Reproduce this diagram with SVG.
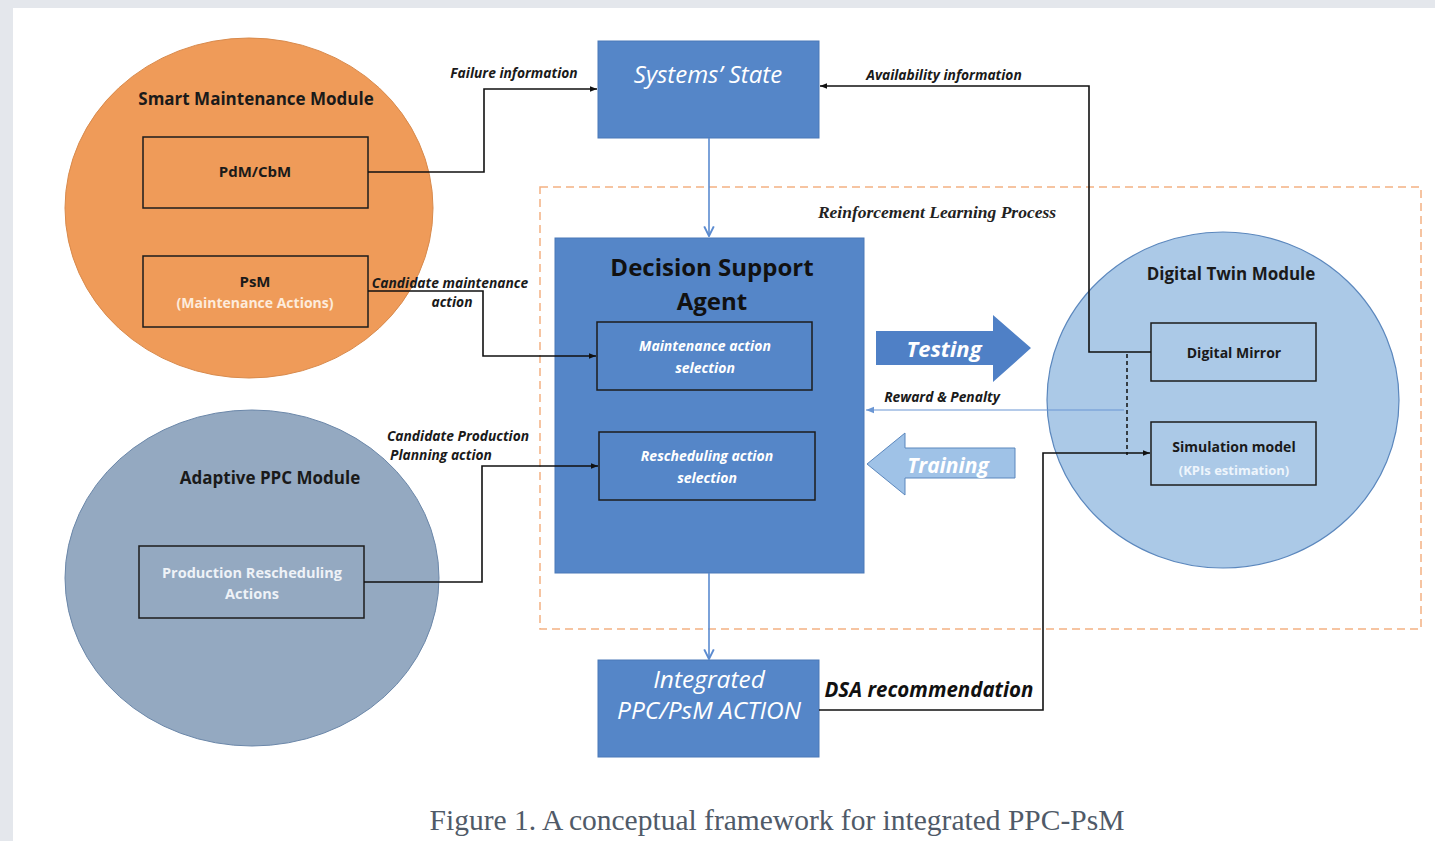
<svg xmlns="http://www.w3.org/2000/svg" width="1435" height="841" viewBox="0 0 1435 841">
<style>
.t{font-family:"Open Sans",Lato,sans-serif;text-anchor:middle}
.b{font-weight:bold}
.i{font-style:italic}
.box{fill:none;stroke:#1c1c1c;stroke-width:1.5}
.blue{fill:#5586c8;stroke:#4a78b8;stroke-width:1}
.con{fill:none;stroke:#111;stroke-width:1.6}
.lbl{font-family:"Open Sans",Lato,sans-serif;font-weight:bold;font-style:italic;font-size:13.8px;fill:#1a1a1a;text-anchor:middle}
</style>
<defs>
<marker id="ah" viewBox="0 0 10 10" refX="10" refY="5" markerWidth="7" markerHeight="7" orient="auto" markerUnits="userSpaceOnUse"><path d="M0,1 L10,5 L0,9 z" fill="#111"/></marker>
<marker id="bh" viewBox="0 0 10 10" refX="9" refY="5" markerWidth="12" markerHeight="12" orient="auto" markerUnits="userSpaceOnUse"><path d="M1,1 L9,5 L1,9" fill="none" stroke="#5b8bd0" stroke-width="1.6"/></marker>
<marker id="rh" viewBox="0 0 10 10" refX="10" refY="5" markerWidth="8" markerHeight="8" orient="auto" markerUnits="userSpaceOnUse"><path d="M0,1 L10,5 L0,9 z" fill="#6a96d4"/></marker>
</defs>
<rect x="0" y="0" width="1435" height="841" fill="#e4e7ec"/>
<rect x="13" y="8" width="1422" height="833" fill="#ffffff"/>

<g id="rl-process">
<rect x="540" y="187" width="881" height="442" fill="none" stroke="#f4b183" stroke-width="1.5" stroke-dasharray="8,5"/>
<text x="937" y="218" font-family="'Liberation Serif',serif" font-style="italic" font-weight="bold" font-size="17.5" fill="#222" text-anchor="middle">Reinforcement Learning Process</text>
</g>

<g id="smart-maintenance">
<ellipse cx="249" cy="208" rx="184" ry="170" fill="#ef9b59" stroke="#d88a4c" stroke-width="1"/>
<text class="t b" x="256" y="105" font-size="17" fill="#1a1a1a">Smart Maintenance Module</text>
</g>
<g id="pdm-cbm">
<rect class="box" x="143" y="137" width="225" height="71"/>
<text class="t b" x="255" y="177" font-size="15" fill="#1a1a1a">PdM/CbM</text>
</g>
<g id="psm">
<rect class="box" x="143" y="256" width="225" height="71"/>
<text class="t b" x="255" y="287" font-size="15" fill="#1a1a1a">PsM</text>
<text class="t b" x="255" y="308" font-size="14" fill="#fdebdc">(Maintenance Actions)</text>
</g>

<g id="adaptive-ppc">
<ellipse cx="252" cy="578" rx="187" ry="168" fill="#94a9c1" stroke="#6b87a9" stroke-width="1"/>
<text class="t b" x="270" y="484" font-size="17" fill="#1a1a1a">Adaptive PPC Module</text>
</g>
<g id="production-rescheduling">
<rect class="box" x="139" y="546" width="225" height="72"/>
<text class="t b" x="252" y="578" font-size="14.5" fill="#eef2f7">Production Rescheduling</text>
<text class="t b" x="252" y="599" font-size="14.5" fill="#eef2f7">Actions</text>
</g>

<g id="systems-state">
<rect class="blue" x="598" y="41" width="221" height="97"/>
<text class="t i" x="708" y="83" font-size="24" fill="#ffffff">Systems’ State</text>
</g>

<g id="dsa">
<rect class="blue" x="555" y="238" width="309" height="335"/>
<text class="t b" x="712" y="276" font-size="24" fill="#111">Decision Support</text>
<text class="t b" x="712" y="310" font-size="24" fill="#111">Agent</text>
</g>
<g id="maintenance-selection">
<rect class="box" x="597" y="322" width="215" height="68"/>
<text class="t b i" x="705" y="351" font-size="14" fill="#ffffff">Maintenance action</text>
<text class="t b i" x="705" y="373" font-size="14" fill="#ffffff">selection</text>
</g>
<g id="rescheduling-selection">
<rect class="box" x="599" y="432" width="216" height="68"/>
<text class="t b i" x="707" y="461" font-size="14" fill="#ffffff">Rescheduling action</text>
<text class="t b i" x="707" y="483" font-size="14" fill="#ffffff">selection</text>
</g>

<g id="integrated-action">
<rect class="blue" x="598" y="660" width="221" height="97"/>
<text class="t i" x="709" y="688" font-size="24.5" fill="#ffffff">Integrated</text>
<text class="t i" x="709" y="719" font-size="24.5" fill="#ffffff">PPC/PsM ACTION</text>
</g>

<g id="digital-twin">
<ellipse cx="1223" cy="400" rx="176" ry="168" fill="#abc9e7" stroke="#5b87bd" stroke-width="1.2"/>
<text class="t b" x="1231" y="280" font-size="17" fill="#1a1a1a">Digital Twin Module</text>
</g>
<g id="digital-mirror">
<rect class="box" x="1151" y="323" width="165" height="58"/>
<text class="t b" x="1234" y="358" font-size="14" fill="#1a1a1a">Digital Mirror</text>
</g>
<g id="simulation-model">
<rect class="box" x="1151" y="422" width="165" height="63"/>
<text class="t b" x="1234" y="452" font-size="14" fill="#1a1a1a">Simulation  model</text>
<text class="t b" x="1234" y="475" font-size="13" fill="#eef5fc">(KPIs estimation)</text>
</g>

<g id="testing">
<path d="M876,331 H993 V315 L1031,348 L993,382 V365 H876 Z" fill="#4f80c6"/>
<text class="t b i" x="944" y="357" font-size="22" fill="#ffffff">Testing</text>
</g>
<g id="training">
<path d="M1015,448 H905 V433 L867,464 L905,495 V478 H1015 Z" fill="#9fc2e7" stroke="#5b87bd" stroke-width="1"/>
<text class="t b i" x="948" y="473" font-size="21" fill="#ffffff">Training</text>
</g>

<g id="connectors">
<path class="con" d="M368,172 H484 V89 H597" marker-end="url(#ah)"/>
<text class="lbl" x="514" y="78">Failure information</text>
<path class="con" d="M368,291 H483 V356 H596" marker-end="url(#ah)"/>
<text class="lbl" x="450" y="288">Candidate maintenance</text>
<text class="lbl" x="452" y="307">action</text>
<path class="con" d="M364,582 H482 V466 H598" marker-end="url(#ah)"/>
<text class="lbl" x="458" y="441">Candidate Production</text>
<text class="lbl" x="441" y="460">Planning action</text>
<path class="con" d="M1151,352 H1089 V86 H820" marker-end="url(#ah)"/>
<text class="lbl" x="944" y="80">Availability information</text>
<path d="M1127,354 V455" fill="none" stroke="#111" stroke-width="1.5" stroke-dasharray="4,3"/>
<path class="con" d="M819,710 H1043 V453 H1150" marker-end="url(#ah)"/>
<text x="929" y="697" font-family="'Open Sans',Lato,sans-serif" font-weight="bold" font-style="italic" font-size="20.5" fill="#111" text-anchor="middle">DSA recommendation</text>
<path d="M1124,410 H866" fill="none" stroke="#6a96d4" stroke-width="1.2" marker-end="url(#rh)"/>
<text class="lbl" x="942" y="402">Reward &amp; Penalty</text>
<path d="M709,138 V236" fill="none" stroke="#5b8bd0" stroke-width="1.6" marker-end="url(#bh)"/>
<path d="M709,573 V659" fill="none" stroke="#5b8bd0" stroke-width="1.6" marker-end="url(#bh)"/>
</g>

<text x="777" y="830" font-family="'Liberation Serif',serif" font-size="29.5" fill="#505a68" text-anchor="middle">Figure 1. A conceptual framework for integrated PPC-PsM</text>
</svg>
